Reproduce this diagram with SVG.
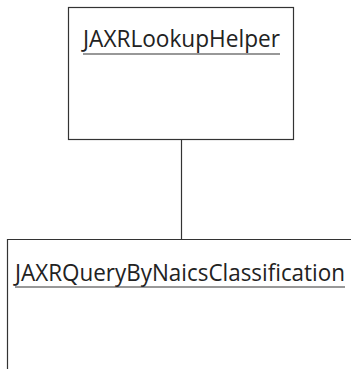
<svg xmlns="http://www.w3.org/2000/svg" width="351" height="369" viewBox="0 0 351 369">
<style>
.box{fill:#fff;stroke:#333;stroke-width:1.2}
.lbl{font-family:"Open Sans","DejaVu Sans",sans-serif;font-size:24px;fill:#222}
.ul{stroke:#333;stroke-width:1.2}
.conn{stroke:#333;stroke-width:1.2;fill:none}
</style>
<rect width="351" height="369" fill="#fff"/>
<g id="connectors">
<line class="conn" x1="181.5" y1="139.5" x2="181.5" y2="239.5"/>
</g>
<g id="JAXRLookupHelper">
<rect class="box" x="68.5" y="7.5" width="225" height="132"/>
<text class="lbl" x="83" y="47" textLength="197" lengthAdjust="spacingAndGlyphs">JAXRLookupHelper</text>
<line class="ul" x1="83" y1="54" x2="280" y2="54"/>
</g>
<g id="JAXRQueryByNaicsClassification">
<path class="box" d="M352 239.5 H7.5 V370"/>
<text class="lbl" x="15" y="280.5" textLength="330" lengthAdjust="spacingAndGlyphs">JAXRQueryByNaicsClassification</text>
<line class="ul" x1="15" y1="287" x2="345" y2="287"/>
</g>
</svg>
